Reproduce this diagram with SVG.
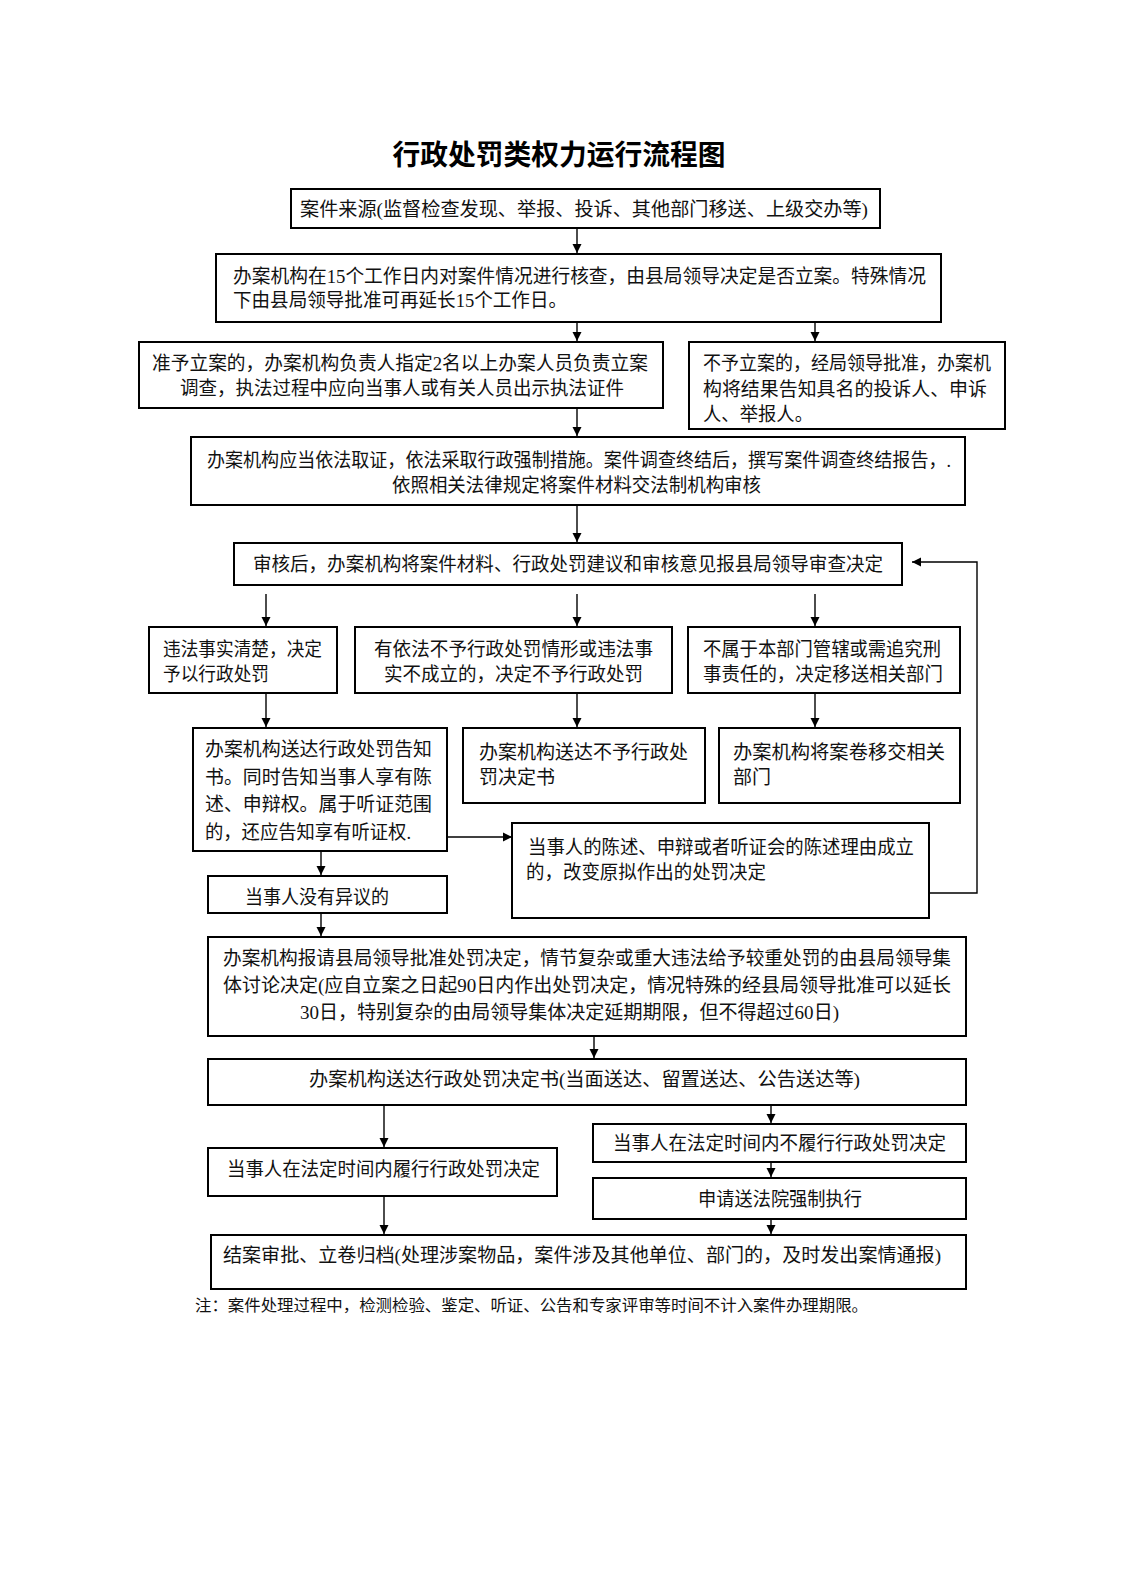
<svg xmlns="http://www.w3.org/2000/svg" width="1122" height="1587" viewBox="0 0 1122 1587">
<style>
.bg{fill:#fff}
.box{fill:#fff;stroke:#000;stroke-width:2}
.t{font-family:"Liberation Serif","Noto Sans CJK SC",serif;font-size:19px;fill:#111}
.title{font-family:"Noto Sans CJK SC",sans-serif;font-size:28px;font-weight:bold;fill:#000}
.note{font-family:"Liberation Serif","Noto Sans CJK SC",serif;font-size:16px;fill:#111}
.ln{fill:none;stroke:#000;stroke-width:1.4}
</style>
<defs>
<marker id="ah" viewBox="0 0 10 10" refX="10" refY="5" markerWidth="9" markerHeight="11" markerUnits="userSpaceOnUse" orient="auto">
<path d="M0,0 L10,5 L0,10 Z" fill="#000"/>
</marker>
</defs>
<rect class="bg" x="0" y="0" width="1122" height="1587"/>
<text class="title" x="559" y="165" text-anchor="middle" textLength="333" lengthAdjust="spacingAndGlyphs">行政处罚类权力运行流程图</text>

<g id="n1"><rect class="box" x="291" y="189" width="589" height="39"/>
<text class="t" x="300" y="216" textLength="568" lengthAdjust="spacingAndGlyphs">案件来源(监督检查发现、举报、投诉、其他部门移送、上级交办等)</text></g>

<g id="n2"><rect class="box" x="216" y="254" width="725" height="68"/>
<text class="t" x="233" y="283" textLength="693" lengthAdjust="spacingAndGlyphs">办案机构在15个工作日内对案件情况进行核查，由县局领导决定是否立案。特殊情况</text>
<text class="t" x="233" y="307" textLength="334" lengthAdjust="spacingAndGlyphs">下由县局领导批准可再延长15个工作日。</text></g>

<g id="n3"><rect class="box" x="139" y="342" width="524" height="66"/>
<text class="t" x="152" y="370" textLength="496" lengthAdjust="spacingAndGlyphs">准予立案的，办案机构负责人指定2名以上办案人员负责立案</text>
<text class="t" x="180" y="395" textLength="444" lengthAdjust="spacingAndGlyphs">调查，执法过程中应向当事人或有关人员出示执法证件</text></g>

<g id="n4"><rect class="box" x="689" y="342" width="316" height="87"/>
<text class="t" x="703" y="370" textLength="288" lengthAdjust="spacingAndGlyphs">不予立案的，经局领导批准，办案机</text>
<text class="t" x="703" y="396" textLength="284" lengthAdjust="spacingAndGlyphs">构将结果告知具名的投诉人、申诉</text>
<text class="t" x="703" y="421" textLength="110" lengthAdjust="spacingAndGlyphs">人、举报人。</text></g>

<g id="n5"><rect class="box" x="191" y="437" width="774" height="68"/>
<text class="t" x="207" y="467" textLength="744" lengthAdjust="spacingAndGlyphs">办案机构应当依法取证，依法采取行政强制措施。案件调查终结后，撰写案件调查终结报告，.</text>
<text class="t" x="392" y="492" textLength="369" lengthAdjust="spacingAndGlyphs">依照相关法律规定将案件材料交法制机构审核</text></g>

<g id="n6"><rect class="box" x="234" y="543" width="668" height="42"/>
<text class="t" x="253" y="571" textLength="630" lengthAdjust="spacingAndGlyphs">审核后，办案机构将案件材料、行政处罚建议和审核意见报县局领导审查决定</text></g>

<g id="n7"><rect class="box" x="149" y="627" width="188" height="66"/>
<text class="t" x="163" y="656" textLength="159" lengthAdjust="spacingAndGlyphs">违法事实清楚，决定</text>
<text class="t" x="163" y="681" textLength="106" lengthAdjust="spacingAndGlyphs">予以行政处罚</text></g>

<g id="n8"><rect class="box" x="355" y="627" width="317" height="66"/>
<text class="t" x="374" y="656" textLength="279" lengthAdjust="spacingAndGlyphs">有依法不予行政处罚情形或违法事</text>
<text class="t" x="384" y="681" textLength="259" lengthAdjust="spacingAndGlyphs">实不成立的，决定不予行政处罚</text></g>

<g id="n9"><rect class="box" x="688" y="627" width="272" height="66"/>
<text class="t" x="703" y="656" textLength="238" lengthAdjust="spacingAndGlyphs">不属于本部门管辖或需追究刑</text>
<text class="t" x="703" y="681" textLength="240" lengthAdjust="spacingAndGlyphs">事责任的，决定移送相关部门</text></g>

<g id="n10"><rect class="box" x="193" y="728" width="254" height="123"/>
<text class="t" x="205" y="756" textLength="227" lengthAdjust="spacingAndGlyphs">办案机构送达行政处罚告知</text>
<text class="t" x="205" y="783.5" textLength="227" lengthAdjust="spacingAndGlyphs">书。同时告知当事人享有陈</text>
<text class="t" x="205" y="811" textLength="227" lengthAdjust="spacingAndGlyphs">述、申辩权。属于听证范围</text>
<text class="t" x="205" y="838.5" textLength="206" lengthAdjust="spacingAndGlyphs">的，还应告知享有听证权.</text></g>

<g id="n11"><rect class="box" x="463" y="728" width="242" height="75"/>
<text class="t" x="479" y="759" textLength="209" lengthAdjust="spacingAndGlyphs">办案机构送达不予行政处</text>
<text class="t" x="479" y="784" textLength="76" lengthAdjust="spacingAndGlyphs">罚决定书</text></g>

<g id="n12"><rect class="box" x="719" y="728" width="241" height="75"/>
<text class="t" x="733" y="759" textLength="212" lengthAdjust="spacingAndGlyphs">办案机构将案卷移交相关</text>
<text class="t" x="733" y="784" textLength="38" lengthAdjust="spacingAndGlyphs">部门</text></g>

<g id="n13"><rect class="box" x="512" y="823" width="417" height="95"/>
<text class="t" x="528" y="854" textLength="386" lengthAdjust="spacingAndGlyphs">当事人的陈述、申辩或者听证会的陈述理由成立</text>
<text class="t" x="526" y="879" textLength="240" lengthAdjust="spacingAndGlyphs">的，改变原拟作出的处罚决定</text></g>

<g id="n14"><rect class="box" x="208" y="876" width="239" height="37"/>
<text class="t" x="245" y="904" textLength="144" lengthAdjust="spacingAndGlyphs">当事人没有异议的</text></g>

<g id="n15"><rect class="box" x="208" y="937" width="758" height="99"/>
<text class="t" x="223" y="965" textLength="728" lengthAdjust="spacingAndGlyphs">办案机构报请县局领导批准处罚决定，情节复杂或重大违法给予较重处罚的由县局领导集</text>
<text class="t" x="223" y="992" textLength="728" lengthAdjust="spacingAndGlyphs">体讨论决定(应自立案之日起90日内作出处罚决定，情况特殊的经县局领导批准可以延长</text>
<text class="t" x="300" y="1019" textLength="539" lengthAdjust="spacingAndGlyphs">30日，特别复杂的由局领导集体决定延期期限，但不得超过60日)</text></g>

<g id="n16"><rect class="box" x="208" y="1059" width="758" height="46"/>
<text class="t" x="309" y="1086" textLength="551" lengthAdjust="spacingAndGlyphs">办案机构送达行政处罚决定书(当面送达、留置送达、公告送达等)</text></g>

<g id="n17"><rect class="box" x="208" y="1148" width="349" height="48"/>
<text class="t" x="227" y="1176" textLength="313" lengthAdjust="spacingAndGlyphs">当事人在法定时间内履行行政处罚决定</text></g>

<g id="n18"><rect class="box" x="593" y="1124" width="373" height="38"/>
<text class="t" x="613" y="1150" textLength="333" lengthAdjust="spacingAndGlyphs">当事人在法定时间内不履行行政处罚决定</text></g>

<g id="n19"><rect class="box" x="593" y="1178" width="373" height="41"/>
<text class="t" x="698" y="1206" textLength="164" lengthAdjust="spacingAndGlyphs">申请送法院强制执行</text></g>

<g id="n20"><rect class="box" x="211" y="1235" width="755" height="54"/>
<text class="t" x="223" y="1262" textLength="718" lengthAdjust="spacingAndGlyphs">结案审批、立卷归档(处理涉案物品，案件涉及其他单位、部门的，及时发出案情通报)</text></g>

<text class="note" x="195" y="1311" textLength="673" lengthAdjust="spacingAndGlyphs">注：案件处理过程中，检测检验、鉴定、听证、公告和专家评审等时间不计入案件办理期限。</text>

<g id="connectors">
<line class="ln" x1="577" y1="228" x2="577" y2="253" marker-end="url(#ah)"/>
<line class="ln" x1="577" y1="322" x2="577" y2="341" marker-end="url(#ah)"/>
<line class="ln" x1="815" y1="322" x2="815" y2="341" marker-end="url(#ah)"/>
<line class="ln" x1="577" y1="408" x2="577" y2="436" marker-end="url(#ah)"/>
<line class="ln" x1="577" y1="505" x2="577" y2="542" marker-end="url(#ah)"/>
<line class="ln" x1="266" y1="594" x2="266" y2="626" marker-end="url(#ah)"/>
<line class="ln" x1="577" y1="594" x2="577" y2="626" marker-end="url(#ah)"/>
<line class="ln" x1="815" y1="594" x2="815" y2="626" marker-end="url(#ah)"/>
<line class="ln" x1="266" y1="693" x2="266" y2="727" marker-end="url(#ah)"/>
<line class="ln" x1="577" y1="693" x2="577" y2="727" marker-end="url(#ah)"/>
<line class="ln" x1="815" y1="693" x2="815" y2="727" marker-end="url(#ah)"/>
<line class="ln" x1="447" y1="837" x2="512" y2="837" marker-end="url(#ah)"/>
<polyline class="ln" points="929,893 977,893 977,562 912,562" marker-end="url(#ah)"/>
<line class="ln" x1="321" y1="851" x2="321" y2="875" marker-end="url(#ah)"/>
<line class="ln" x1="321" y1="913" x2="321" y2="936" marker-end="url(#ah)"/>
<line class="ln" x1="594" y1="1036" x2="594" y2="1058" marker-end="url(#ah)"/>
<line class="ln" x1="384" y1="1105" x2="384" y2="1147" marker-end="url(#ah)"/>
<line class="ln" x1="771" y1="1105" x2="771" y2="1123" marker-end="url(#ah)"/>
<line class="ln" x1="771" y1="1162" x2="771" y2="1177" marker-end="url(#ah)"/>
<line class="ln" x1="384" y1="1196" x2="384" y2="1234" marker-end="url(#ah)"/>
<line class="ln" x1="771" y1="1219" x2="771" y2="1234" marker-end="url(#ah)"/>
</g>
</svg>
